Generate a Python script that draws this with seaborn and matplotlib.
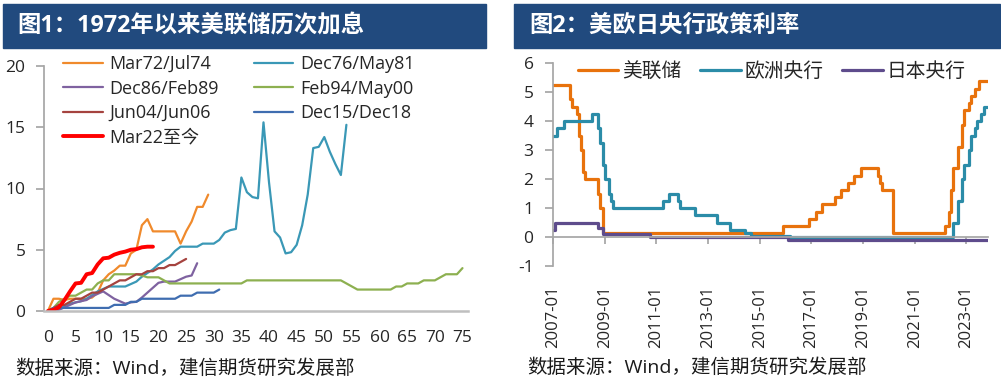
import matplotlib
matplotlib.use('Agg')
from matplotlib import pyplot as plt
from matplotlib.patches import Rectangle
import seaborn as sns
import pandas as pd

# ---- 图1: cumulative Fed hikes per cycle (months since first hike, %) ----
mar72_jul74 = [0, 1.0, 1.0, 0.9, 1.0, 1.0, 1.0, 1.0, 1.1, 1.5, 2.5, 3.0, 3.3, 3.7, 3.7,
               4.7, 5.0, 7.0, 7.5, 6.5, 6.5, 6.5, 6.5, 6.5, 5.5, 6.5, 7.3, 8.5, 8.5, 9.5]
dec76_may81 = [0, 0.1, 0.2, 0.4, 0.6, 0.7, 0.8, 1.0, 1.3, 1.6, 1.8, 2.0, 2.0, 2.0, 2.0,
               2.2, 2.4, 2.8, 3.1, 3.4, 3.8, 4.1, 4.4, 4.9, 5.25, 5.25, 5.25, 5.25, 5.5,
               5.5, 5.5, 5.8, 6.4, 6.6, 6.7, 10.9, 9.7, 9.3, 9.2, 15.4, 10.5, 6.5, 6.0,
               4.7, 4.8, 5.4, 7.0, 9.5, 13.3, 13.4, 14.2, 13.0, 12.0, 11.1, 15.2]
dec86_feb89 = [0, 0.0, 0.1, 0.3, 0.5, 0.7, 0.8, 0.9, 1.2, 1.4, 1.6, 1.3, 1.0, 0.8, 0.6,
               0.7, 0.75, 1.1, 1.5, 1.9, 2.3, 2.4, 2.4, 2.4, 2.6, 2.8, 2.9, 3.9]
feb94_may00 = [0, 0.25, 0.75, 1.0, 1.25, 1.25, 1.5, 1.75, 1.75, 2.25, 2.5, 2.5, 3.0, 3.0,
               3.0, 3.0, 3.0, 2.9, 2.75, 2.75, 2.75, 2.5, 2.25, 2.25, 2.25, 2.25, 2.25,
               2.25, 2.25, 2.25, 2.25, 2.25, 2.25, 2.25, 2.25, 2.25, 2.5, 2.5, 2.5, 2.5,
               2.5, 2.5, 2.5, 2.5, 2.5, 2.5, 2.5, 2.5, 2.5, 2.5, 2.5, 2.5, 2.5, 2.5,
               2.25, 2.0, 1.75, 1.75, 1.75, 1.75, 1.75, 1.75, 1.75, 2.0, 2.0, 2.25, 2.25,
               2.25, 2.5, 2.5, 2.5, 2.75, 3.0, 3.0, 3.0, 3.5]
jun04_jun06 = [0, 0.25, 0.5, 0.5, 0.75, 1.0, 1.0, 1.25, 1.5, 1.5, 1.75, 2.0, 2.25, 2.5,
               2.5, 2.75, 3.0, 3.0, 3.25, 3.25, 3.5, 3.5, 3.75, 3.75, 4.0, 4.25]
dec15_dec18 = [0, 0.25, 0.25, 0.25, 0.25, 0.25, 0.25, 0.25, 0.25, 0.25, 0.25, 0.25, 0.5,
               0.5, 0.5, 0.75, 0.75, 1.0, 1.0, 1.0, 1.0, 1.0, 1.0, 1.0, 1.25, 1.25, 1.25,
               1.5, 1.5, 1.5, 1.5, 1.75]
mar22_now = [0, 0.1, 0.3, 0.9, 1.6, 2.25, 2.3, 3.0, 3.1, 3.8, 4.3, 4.35, 4.6, 4.75, 4.85,
             5.0, 5.05, 5.2, 5.25, 5.25]

cycle_names = ['Mar72/Jul74', 'Dec76/May81', 'Dec86/Feb89', 'Feb94/May00',
               'Jun04/Jun06', 'Dec15/Dec18', 'Mar22至今']
cycle_values = [mar72_jul74, dec76_may81, dec86_feb89, feb94_may00,
                jun04_jun06, dec15_dec18, mar22_now]
cycle_colors = ['#F08A2C', '#3A98B6', '#7F62A0', '#8DB050', '#A5433F', '#3F6DB0', '#FF0000']
cycle_widths = [1.6, 1.6, 1.6, 1.6, 1.6, 1.6, 2.8]

# ---- 图2: policy rates (change dates, %) ----
fed_dates = ['2007-01', '2007-09', '2007-10', '2007-12', '2008-01', '2008-02', '2008-03',
             '2008-04', '2008-10', '2008-11', '2008-12', '2015-12', '2016-12', '2017-03',
             '2017-06', '2017-12', '2018-03', '2018-06', '2018-09', '2018-12', '2019-08',
             '2019-09', '2019-10', '2020-03', '2022-03', '2022-05', '2022-06', '2022-07',
             '2022-09', '2022-11', '2022-12', '2023-02', '2023-03', '2023-05', '2023-07',
             '2023-10-25']
fed_rates = [5.25, 4.75, 4.5, 4.25, 3.5, 3.0, 2.25, 2.0, 1.5, 1.0, 0.125, 0.375, 0.625,
             0.875, 1.125, 1.375, 1.625, 1.875, 2.125, 2.375, 2.125, 1.875, 1.625, 0.125,
             0.375, 0.875, 1.625, 2.375, 3.125, 3.875, 4.375, 4.625, 4.875, 5.125, 5.375,
             5.375]
ecb_dates = ['2007-01', '2007-03', '2007-06', '2008-07', '2008-10', '2008-11', '2008-12',
             '2009-01', '2009-03', '2009-04', '2009-05', '2011-04', '2011-07', '2011-11',
             '2011-12', '2012-07', '2013-05', '2013-11', '2014-06', '2014-09', '2016-03',
             '2022-07', '2022-09', '2022-11', '2022-12', '2023-02', '2023-03', '2023-05',
             '2023-06', '2023-08', '2023-09', '2023-10-25']
ecb_rates = [3.5, 3.75, 4.0, 4.25, 3.75, 3.25, 2.5, 2.0, 1.5, 1.25, 1.0, 1.25, 1.5, 1.25,
             1.0, 0.75, 0.5, 0.25, 0.15, 0.05, 0.0, 0.5, 1.25, 2.0, 2.5, 3.0, 3.5, 3.75,
             4.0, 4.25, 4.5, 4.5]
boj_dates = ['2007-01', '2007-02', '2008-10', '2008-12', '2010-10', '2016-02', '2023-10-25']
boj_rates = [0.25, 0.5, 0.3, 0.1, 0.0, -0.1, -0.1]

banks = ['美联储', '欧洲央行', '日本央行']
bank_colors = ['#E8720C', '#2B8CA8', '#5E4C8C']
year_ticks = ['2007-01', '2009-01', '2011-01', '2013-01', '2015-01', '2017-01',
              '2019-01', '2021-01', '2023-01']

sns.set_theme(style='white')
plt.rcParams['font.family'] = ['Open Sans', 'Noto Sans CJK SC', 'DejaVu Sans']
plt.rcParams['axes.unicode_minus'] = False

W, H = 1001, 384
fig = plt.figure(figsize=(W / 100, H / 100), dpi=100)
ax1 = fig.add_axes([43.5 / W, 1 - 311 / H, 424.5 / W, 245 / H])
ax2 = fig.add_axes([553 / W, 1 - 266 / H, 435 / W, 202.7 / H])

# title bars
bar = '#214A7E'
fig.add_artist(Rectangle((3 / W, 1 - 48 / H), 483 / W, 44 / H, transform=fig.transFigure,
                         color=bar, zorder=0))
fig.add_artist(Rectangle((514 / W, 1 - 48 / H), 486 / W, 44 / H, transform=fig.transFigure,
                         color=bar, zorder=0))
fig.text(17 / W, 1 - 26 / H, '图1：1972年以来美联储历次加息', color='white',
         fontsize=16.8, fontweight='bold', va='center', ha='left')
fig.text(529 / W, 1 - 26 / H, '图2：美欧日央行政策利率', color='white',
         fontsize=16.8, fontweight='bold', va='center', ha='left')

# left chart
for name, vals, color, lw in zip(cycle_names, cycle_values, cycle_colors, cycle_widths):
    sns.lineplot(x=list(range(len(vals))), y=vals, ax=ax1, color=color,
                 linewidth=lw, label=name)

ax1.set_xlim(-0.8, 76)
ax1.set_ylim(0, 20)
ax1.set_xticks(range(0, 76, 5))
ax1.set_yticks(range(0, 21, 5))
ax1.set_xlabel('')
ax1.set_ylabel('')
ax1.spines[['top', 'right']].set_visible(False)
ax1.spines['left'].set_color('#A6A6A6')
ax1.spines['bottom'].set_color('#BFBFBF')
ax1.spines['bottom'].set_linewidth(1.8)
ax1.tick_params(axis='x', length=0, pad=14, labelsize=12.5, labelcolor='#262626')
ax1.tick_params(axis='y', left=True, length=6, color='#A6A6A6', pad=7,
                labelsize=12.5, labelcolor='#262626')

handles, labels = ax1.get_legend_handles_labels()
order = [0, 2, 4, 6, 1, 3, 5]
ax1.legend([handles[i] for i in order], [labels[i] for i in order], ncol=2,
           loc='upper left', bbox_to_anchor=(63 / W, 1 - 55 / H),
           bbox_transform=fig.transFigure, frameon=False, fontsize=13,
           handlelength=2.2, handletextpad=0.35, columnspacing=1.95,
           labelspacing=0.36, borderpad=0, borderaxespad=0)

# right chart
rates = pd.DataFrame({
    'date': pd.to_datetime(fed_dates + ecb_dates + boj_dates, format='mixed'),
    'rate': fed_rates + ecb_rates + boj_rates,
    'bank': [banks[0]] * len(fed_dates) + [banks[1]] * len(ecb_dates)
            + [banks[2]] * len(boj_dates),
})
sns.lineplot(data=rates, x='date', y='rate', hue='bank', hue_order=banks,
             palette=dict(zip(banks, bank_colors)), drawstyle='steps-post',
             estimator=None, linewidth=2.3, ax=ax2)

ax2.set_xlim(pd.Timestamp('2007-01-01'), pd.Timestamp('2023-11-01'))
ax2.set_ylim(-1, 6)
ax2.set_yticks(range(-1, 7))
ax2.set_xticks(pd.to_datetime(year_ticks))
ax2.set_xticklabels(year_ticks)
ax2.set_xlabel('')
ax2.set_ylabel('')
ax2.spines[['top', 'right']].set_visible(False)
ax2.spines['left'].set_color('#A6A6A6')
ax2.spines['bottom'].set_color('#A6A6A6')
ax2.spines['bottom'].set_position(('data', 0))
ax2.tick_params(axis='x', bottom=True, length=5, color='#A6A6A6', pad=30,
                labelrotation=90, labelsize=12, labelcolor='#262626')
ax2.tick_params(axis='y', left=True, length=6, color='#A6A6A6', pad=8,
                labelsize=12.5, labelcolor='#262626')
ax2.legend(ncol=3, loc='upper left', bbox_to_anchor=(578 / W, 1 - 62 / H),
           bbox_transform=fig.transFigure, frameon=False, fontsize=14.2,
           handlelength=2.05, handletextpad=0.2, columnspacing=0.95,
           borderpad=0, borderaxespad=0)

# sources
src = '数据来源：Wind，建信期货研究发展部'
fig.text(15 / W, 1 - 369 / H, src, fontsize=14, va='center', ha='left', color='#1a1a1a')
fig.text(527 / W, 1 - 368 / H, src, fontsize=14, va='center', ha='left', color='#1a1a1a')

fig.savefig('out.png', dpi=100)
plt.close(fig)
